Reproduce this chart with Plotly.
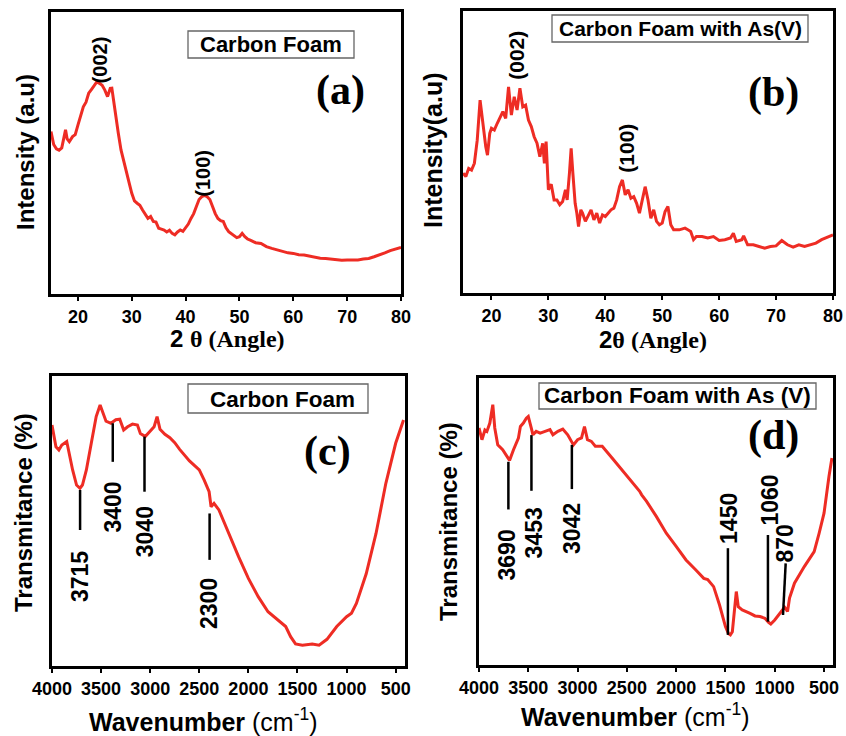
import plotly.graph_objects as go

W, H = 846, 736

# ---------------- DATA ----------------
# (a) XRD Carbon Foam
xrd_a_x = [15, 15.5, 16, 16.5, 17, 17.4, 17.7, 18.0, 18.4, 19,
           19.5, 20, 20.5, 21, 21.5, 22, 22.5, 23, 23.5, 24,
           24.5, 25, 25.5, 26, 26.3, 26.6, 27, 27.5, 28, 28.5,
           29, 29.5, 30, 30.5, 31, 31.5, 32, 32.5, 33, 33.5,
           34, 34.5, 35, 35.5, 36, 36.5, 37, 37.5, 38, 38.5,
           39, 39.5, 40, 40.5, 41, 41.5, 42, 42.5, 43, 43.5,
           44, 44.5, 45, 45.5, 46, 46.5, 47, 47.5, 48, 48.5,
           49, 49.5, 50, 50.5, 51, 51.5, 52, 53, 54, 55,
           56, 57, 58, 59, 60, 61, 62, 63, 64, 65,
           66, 67, 68, 69, 70, 71, 72, 73, 74, 75,
           76, 77, 78, 79, 80]
xrd_a_y = [57.6, 53.0, 51.5, 51.0, 51.8, 55.5, 58.2, 55.0, 54.0, 55.8,
           56.5, 59.9, 63.0, 66.4, 68.0, 71.2, 72.5, 74.1, 75.2, 74.7,
           74.0, 72.3, 70.0, 72.9, 73.0, 69.0, 62.9, 57.0, 51.1, 47.5,
           44.0, 39.5, 35.7, 33.0, 32.2, 31.5, 29.8, 28.5, 26.8, 27.5,
           25.7, 25.5, 23.3, 23.0, 22.7, 22.0, 22.6, 21.5, 21.0, 22.0,
           22.7, 22.2, 23.3, 24.8, 26.8, 28.5, 31.0, 33.5, 34.5, 35.0,
           34.5, 33.5, 31.0, 28.5, 26.8, 26.0, 25.7, 23.5, 22.1, 21.5,
           20.9, 20.0, 20.3, 21.5, 20.3, 19.5, 19.1, 18.2, 17.9, 16.8,
           16.2, 15.6, 15.0, 14.6, 14.4, 13.9, 13.8, 13.4, 13.0, 12.7,
           12.6, 12.4, 12.1, 12.0, 12.1, 12.0, 12.1, 12.4, 12.6, 13.2,
           13.8, 14.6, 15.4, 16.0, 16.5]

# (b) XRD Carbon Foam with As(V)
xrd_b_x = [15, 15.5, 16, 16.5, 17, 17.5, 18, 18.5, 19, 19.3,
           19.7, 20, 20.5, 21, 21.5, 22, 22.5, 23, 23.5, 24,
           24.5, 25, 25.5, 26, 26.5, 27, 27.5, 28, 28.5, 29,
           29.3, 29.6, 30, 30.5, 31, 31.5, 32, 32.5, 33, 33.3,
           33.7, 34, 34.3, 34.7, 35, 35.3, 35.7, 36, 36.5, 37,
           37.5, 38, 38.5, 39, 39.5, 40, 40.5, 41, 41.5, 42,
           42.5, 43, 43.5, 44, 44.5, 45, 45.5, 46, 46.5, 47,
           47.5, 48, 48.5, 49, 49.5, 50, 50.5, 51, 51.5, 52,
           53, 54, 54.5, 55, 55.5, 56, 57, 58, 59, 60,
           61, 62, 62.5, 63, 64, 64.3, 65, 66, 67, 68,
           69, 70, 71, 72, 73, 74, 75, 76, 77, 78,
           79, 80]
xrd_b_y = [42.5, 41.3, 44.2, 43.6, 46.0, 54.2, 68.4, 59.0, 51.9, 48.9,
           56.6, 58.4, 57.8, 60.1, 62.5, 64.3, 61.9, 73.1, 63.1, 69.6,
           64.9, 72.6, 66.0, 66.6, 61.3, 59.0, 55.4, 53.1, 48.3, 53.1,
           46.0, 53.7, 36.6, 38.6, 33.0, 33.0, 31.3, 32.4, 36.6, 33.0,
           42.5, 51.3, 42.5, 31.8, 28.3, 23.6, 29.5, 28.3, 25.4, 27.7,
           29.5, 25.9, 28.3, 24.8, 27.7, 27.1, 28.3, 29.5, 30.1, 33.0,
           37.7, 40.1, 34.8, 36.6, 33.6, 34.2, 31.8, 28.3, 33.0, 37.7,
           33.0, 26.5, 29.5, 25.4, 24.2, 24.8, 28.9, 30.7, 24.2, 22.4,
           22.4, 23.0, 22.4, 21.8, 18.9, 20.0, 20.0, 19.5, 20.0, 18.6,
           18.9, 19.5, 21.2, 18.3, 18.9, 20.3, 17.1, 17.1, 16.5, 15.9,
           16.5, 16.7, 18.6, 17.1, 16.3, 17.1, 16.5, 17.1, 17.7, 18.9,
           19.8, 20.6]

# (c) FTIR Carbon Foam
ftir_c_x = [4000, 3960, 3930, 3900, 3850, 3820, 3790, 3750, 3715, 3690,
            3650, 3600, 3550, 3510, 3480, 3450, 3400, 3350, 3310, 3270,
            3230, 3180, 3130, 3100, 3050, 3000, 2960, 2930, 2900, 2850,
            2800, 2750, 2700, 2600, 2500, 2450, 2400, 2380, 2350, 2300,
            2200, 2100, 2000, 1900, 1800, 1700, 1620, 1570, 1520, 1450,
            1350, 1280, 1200, 1100, 1000, 950, 900, 800, 700, 600,
            500, 420]
ftir_c_y = [83.1, 75.6, 74.5, 76.2, 77.4, 72.2, 67.6, 62.4, 61.3, 62.4,
            67.6, 76.8, 86.0, 90.0, 87.1, 84.4, 83.7, 84.9, 85.1, 81.4,
            82.5, 83.4, 83.1, 80.2, 79.1, 80.8, 82.5, 86.0, 81.6, 79.9,
            78.7, 77.0, 74.7, 70.7, 67.6, 64.1, 60.1, 54.9, 56.1, 53.8,
            45.7, 37.7, 30.2, 23.9, 18.7, 15.9, 13.6, 10.1, 7.6, 7.2,
            7.6, 7.2, 9.2, 13.6, 17.0, 18.2, 21.6, 31.8, 45.7, 63.0,
            76.8, 84.8]

# (d) FTIR Carbon Foam with As(V)
ftir_d_x = [4000, 3970, 3940, 3920, 3890, 3870, 3860, 3840, 3810, 3760,
            3720, 3690, 3650, 3600, 3580, 3550, 3520, 3500, 3470, 3453,
            3420, 3380, 3330, 3280, 3250, 3200, 3150, 3100, 3042, 3000,
            2960, 2930, 2900, 2860, 2820, 2750, 2650, 2550, 2450, 2370,
            2350, 2300, 2200, 2100, 2000, 1900, 1800, 1720, 1680, 1620,
            1560, 1500, 1470, 1450, 1430, 1410, 1390, 1370, 1330, 1250,
            1200, 1150, 1100, 1060, 1040, 1000, 950, 900, 880, 870,
            850, 800, 700, 600, 550, 500, 450, 420]
ftir_d_y = [82.6, 78.5, 81.9, 81.4, 84.3, 87.8, 90.7, 82.6, 76.7, 75.0,
            72.7, 71.3, 75.0, 79.1, 83.1, 84.3, 86.0, 86.6, 82.6, 80.2,
            81.4, 80.8, 81.4, 82.0, 80.2, 81.4, 82.2, 80.2, 76.7, 78.5,
            79.1, 83.1, 78.5, 77.9, 76.2, 76.2, 72.1, 68.0, 63.9, 60.5,
            59.3, 57.0, 51.7, 45.9, 41.3, 36.6, 33.1, 30.2, 29.8, 27.3,
            20.9, 13.4, 11.0, 10.5, 11.6, 18.0, 25.6, 20.3, 19.2, 18.0,
            17.1, 16.9, 16.3, 14.8, 14.3, 15.7, 18.0, 20.1, 19.2, 18.6,
            23.3, 28.5, 34.3, 39.5, 45.9, 52.9, 65.7, 72.1]

xrd_ticks = [20, 30, 40, 50, 60, 70, 80]
ftir_ticks = [4000, 3500, 3000, 2500, 2000, 1500, 1000, 500]

# band labels: (label text, marker wavenumber, line top, line bottom, label x, label y)
bands_c = [("3715", 3714, 60.7, 46.9, 3714, 30.7),
           ("3400", 3381, 83.7, 70.4, 3381, 54.9),
           ("3040", 3058, 79.1, 60.1, 3058, 46.3),
           ("2300", 2395, 52.6, 36.6, 2395, 21.6)]
bands_d = [("3690", 3702, 70.8, 54.2, 3712, 38.3),
           ("3453", 3468, 80.1, 60.7, 3441, 45.9),
           ("3042", 3058, 76.7, 61.3, 3051, 47.6),
           ("1450", 1475, 40.7, 10.5, 1458, 51.1),
           ("1060", 1069, 45.3, 15.1, 1052, 57.5),
           ("870", 889, 35.4, 17.4, 893, 42.4)]

# ---------------- FIGURE ----------------
RED = "#ee2c24"
SANS = "Liberation Sans, Arial, sans-serif"
SERIF = "Liberation Serif, Times New Roman, serif"

def px(x):
    return x / W

def py(y):
    return 1 - y / H

fig = go.Figure()
fig.add_trace(go.Scatter(x=xrd_a_x, y=xrd_a_y, mode="lines", xaxis="x", yaxis="y",
                         line=dict(color=RED, width=3)))
fig.add_trace(go.Scatter(x=xrd_b_x, y=xrd_b_y, mode="lines", xaxis="x2", yaxis="y2",
                         line=dict(color=RED, width=3)))
fig.add_trace(go.Scatter(x=ftir_c_x, y=ftir_c_y, mode="lines", xaxis="x3", yaxis="y3",
                         line=dict(color=RED, width=3)))
fig.add_trace(go.Scatter(x=ftir_d_x, y=ftir_d_y, mode="lines", xaxis="x4", yaxis="y4",
                         line=dict(color=RED, width=3)))

tickfont = dict(family=SANS, size=18, color="black", weight="bold")

def xax(domain, rng, ticks, anchor):
    return dict(domain=domain, range=rng, tickvals=ticks, ticks="outside", ticklen=4,
                tickwidth=2, tickcolor="black", showline=True, linewidth=3,
                linecolor="black", mirror=True, showgrid=False, zeroline=False,
                tickfont=tickfont, anchor=anchor, automargin=False)

def yax(domain, anchor):
    return dict(domain=domain, range=[0, 100], showticklabels=False, ticks="",
                showline=True, linewidth=3, linecolor="black", mirror=True,
                showgrid=False, zeroline=False, anchor=anchor, automargin=False)

fig.update_layout(
    width=W, height=H, margin=dict(l=0, r=0, t=0, b=0, pad=0, autoexpand=False),
    paper_bgcolor="white", plot_bgcolor="white", showlegend=False,
    xaxis=xax([px(51), px(401)], [15, 80], xrd_ticks, "y"),
    yaxis=yax([py(294), py(12)], "x"),
    xaxis2=xax([px(463), px(833)], [15, 80], xrd_ticks, "y2"),
    yaxis2=yax([py(293), py(11)], "x2"),
    xaxis3=xax([px(52), px(405)], [4000, 405], ftir_ticks, "y3"),
    yaxis3=yax([py(666), py(376)], "x3"),
    xaxis4=xax([px(479), px(833)], [4000, 409], ftir_ticks, "y4"),
    yaxis4=yax([py(665), py(378)], "x4"),
)

ann = []
shapes = []

def ptext(text, x, y, size, family=SANS, angle=0, bold=True):
    ann.append(dict(text=text, x=px(x), y=py(y), xref="paper", yref="paper",
                    showarrow=False, textangle=angle, xanchor="center", yanchor="middle",
                    font=dict(family=family, size=size, color="black",
                              weight="bold" if bold else "normal")))

# boxed sample names
for (x0, y0, x1, y1) in [(188, 31, 354, 58), (552, 15, 808, 42),
                         (188, 384, 368, 413), (539, 383, 816, 409)]:
    shapes.append(dict(type="rect", xref="paper", yref="paper", x0=px(x0), x1=px(x1),
                       y0=py(y0), y1=py(y1), line=dict(color="#666666", width=1.3)))
ptext("Carbon Foam", 271, 45, 22)
ptext("Carbon Foam with As(V)", 680, 29, 21)
ptext("Carbon Foam", 282, 399, 22.5)
ptext("Carbon Foam with As (V)", 677, 396, 22.5)

# panel letters
ptext("(a)", 340, 91, 42, SERIF)
ptext("(b)", 773, 92, 42, SERIF)
ptext("(c)", 327, 452, 42, SERIF)
ptext("(d)", 773, 435, 42, SERIF)

# axis titles
ptext("Intensity (a.u)", 25, 152, 24, angle=-90)
ptext("Intensity(a.u)", 433, 150, 25, angle=-90)
ptext("Transmitance (%)", 23, 513, 24, angle=-90)
ptext("Transmitance (%)", 448, 522, 24, angle=-90)
ptext(f"2 <span style='font-family:{SERIF}'>θ (Angle)</span>", 227, 338, 24)
ptext(f"2<span style='font-family:{SERIF}'>θ (Angle)</span>", 653, 340, 24)
ptext("Wavenumber <span style='font-weight:normal'>(cm<sup>-1</sup>)</span>", 203, 720, 25)
ptext("Wavenumber <span style='font-weight:normal'>(cm<sup>-1</sup>)</span>", 635, 715, 25)

# XRD peak labels
for txt, xv, yv, xa, ya, sz in [("(002)", 24.0, 83.0, "x", "y", 20),
                                ("(100)", 43.3, 42.8, "x", "y", 20),
                                ("(002)", 24.4, 84.3, "x2", "y2", 21),
                                ("(100)", 43.7, 51.3, "x2", "y2", 21)]:
    ann.append(dict(text=txt, x=xv, y=yv, xref=xa, yref=ya, showarrow=False,
                    textangle=-90, font=dict(family=SANS, size=sz, color="black",
                                             weight="bold")))

# FTIR band markers
for bands, xa, ya in [(bands_c, "x3", "y3"), (bands_d, "x4", "y4")]:
    for (lab, wx, ytop, ybot, lx, ly) in bands:
        x_end = wx
        if lab == "870":
            x_end = 916
        shapes.append(dict(type="line", xref=xa, yref=ya, x0=x_end, x1=wx,
                           y0=ybot, y1=ytop, line=dict(color="black", width=2.5)))
        ann.append(dict(text=lab, x=lx, y=ly, xref=xa, yref=ya, showarrow=False,
                        textangle=-90, font=dict(family=SANS, size=23, color="black",
                                                 weight="bold")))

fig.update_layout(annotations=ann, shapes=shapes)
fig.write_html("out.html")
